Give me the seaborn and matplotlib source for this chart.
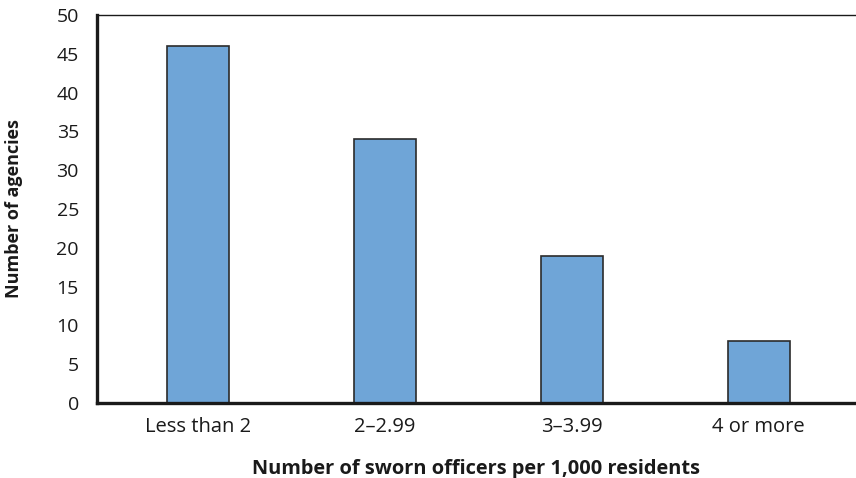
import pandas as pd
import numpy as np
import matplotlib
matplotlib.use("Agg")
import matplotlib.pyplot as plt
import seaborn as sns

# Values
categories = ['Less than 2', '2\u20132.99', '3\u20133.99', '4 or more']
agencies = [46, 34, 19, 8]

df = pd.DataFrame({'Officers': categories, 'Agencies': agencies})

sns.set_style('white')
plt.rcParams['font.family'] = ['Open Sans', 'DejaVu Sans']

fig = plt.figure(figsize=(8.56, 4.78), dpi=100)
ax = fig.add_axes([0.1133, 0.157, 0.8867, 0.8117])

sns.barplot(data=df, x='Officers', y='Agencies', color='#6fa5d7',
            edgecolor='#2b2b2b', linewidth=1.2, width=0.33, saturation=1, ax=ax)

ax.set_xlim(-0.54, 3.52)
ax.set_ylim(0, 50)
ax.set_yticks(np.arange(0, 51, 5))

for side in ['left', 'bottom']:
    ax.spines[side].set_linewidth(2.4)
    ax.spines[side].set_color('#1a1a1a')
ax.spines['top'].set_linewidth(1.0)
ax.spines['top'].set_color('#1a1a1a')
ax.spines['right'].set_visible(False)

ax.tick_params(axis='y', direction='in', length=14, width=1.3, pad=13,
               labelsize=14, colors='#1a1a1a')
ax.tick_params(axis='x', length=0, pad=10, labelsize=14.5, colors='#1a1a1a')
# no tick marks on the spines at 0 and 50
yt = ax.yaxis.get_major_ticks()
yt[0].tick1line.set_visible(False)
yt[-1].tick1line.set_visible(False)

ax.set_xlabel('Number of sworn officers per 1,000 residents', fontsize=14.4,
              fontweight='bold', labelpad=16, color='#1a1a1a')
ax.set_ylabel('Number of agencies', fontsize=13, fontweight='bold',
              labelpad=24, color='#1a1a1a')

fig.savefig('out.png', dpi=100)
